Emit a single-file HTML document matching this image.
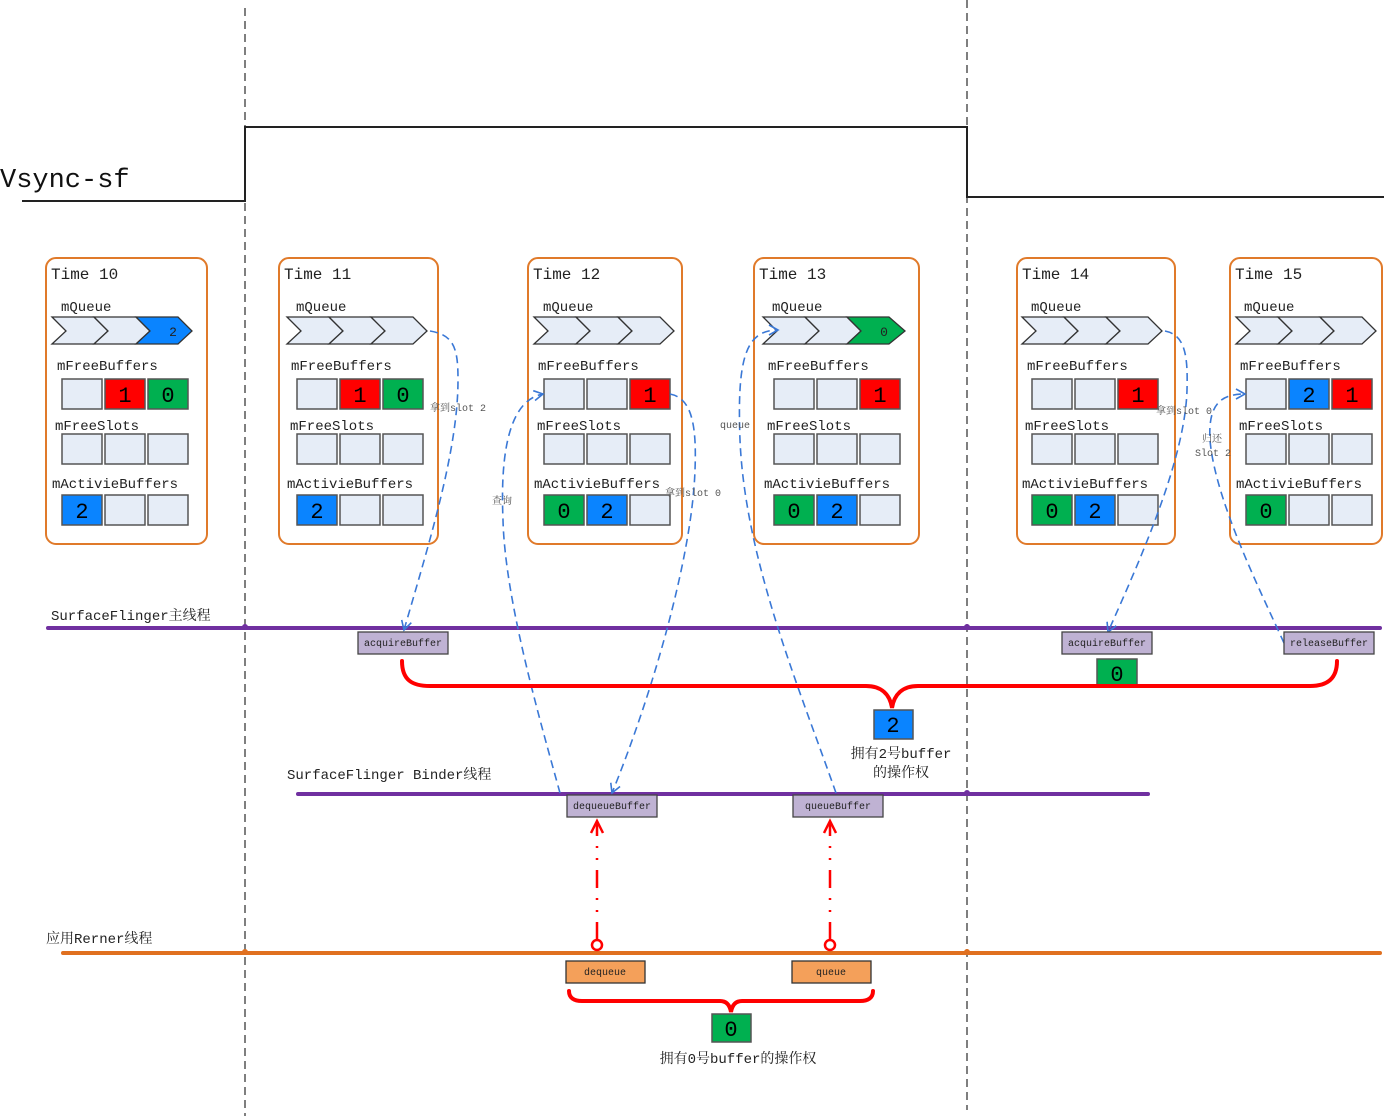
<!DOCTYPE html>
<html><head><meta charset="utf-8"><style>
html,body{margin:0;padding:0;background:#fff;}
svg{display:block;}
text{font-family:"Liberation Mono","Noto Serif CJK SC",monospace;fill:#222;}
.lb{font-size:14px;}
.tt{font-size:16px;}
.dg{font-size:22px;text-anchor:middle;fill:#000;}
.c{stroke:#555;stroke-width:1.5;}
.e{fill:#e6edf7;}
.r{fill:#ff0000;}
.g{fill:#00b050;}
.b{fill:#0a84ff;}
.bx{fill:#fff;stroke:#e07a2a;stroke-width:2;}
.ch{stroke:#333;stroke-width:1.3;}
.bl{fill:none;stroke:#3a78d6;stroke-width:1.6;stroke-dasharray:8,5;}
.sm{font-size:10px;fill:#555;}
.fn{fill:#bfb2d3;stroke:#444;stroke-width:1.3;}
.fo{fill:#f4a05a;stroke:#333;stroke-width:1.3;}
.ft{font-size:10px;text-anchor:middle;fill:#222;}
</style></head><body>
<svg width="1384" height="1116" viewBox="0 0 1384 1116" xmlns="http://www.w3.org/2000/svg">
<defs>
<marker id="ab" markerWidth="12" markerHeight="12" refX="10" refY="6" orient="auto" markerUnits="userSpaceOnUse"><path d="M1,1 L10,6 L1,11" fill="none" stroke="#3a78d6" stroke-width="1.6"/></marker>
</defs>

<line x1="245" y1="8" x2="245" y2="1116" stroke="#555" stroke-width="1.5" stroke-dasharray="8,5"/>
<line x1="967" y1="0" x2="967" y2="1110" stroke="#555" stroke-width="1.5" stroke-dasharray="8,5"/>

<polyline points="22,201 245,201 245,127 967,127 967,197 1384,197" fill="none" stroke="#222" stroke-width="2"/>
<text x="0" y="187" style="font-size:27px;fill:#111">Vsync-sf</text>

<!-- Box 1 -->
<rect class="bx" x="46" y="258" width="161" height="286" rx="10"/>
<text class="tt" x="51" y="279">Time 10</text>
<text class="lb" x="61" y="311">mQueue</text>
<polygon class="ch e" points="52,317 94,317 108,331 94,344 52,344 66,331"/>
<polygon class="ch e" points="94,317 136,317 150,331 136,344 94,344 108,331"/>
<polygon class="ch b" points="136,317 178,317 192,331 178,344 136,344 150,331"/>
<text x="173" y="336" style="font-size:13px;text-anchor:middle">2</text>
<text class="lb" x="57" y="370">mFreeBuffers</text>
<rect class="c e" x="62" y="379" width="40" height="30"/><rect class="c r" x="105" y="379" width="40" height="30"/><rect class="c g" x="148" y="379" width="40" height="30"/>
<text class="dg" x="125" y="402">1</text><text class="dg" x="168" y="402">0</text>
<text class="lb" x="55" y="430">mFreeSlots</text>
<rect class="c e" x="62" y="434" width="40" height="30"/><rect class="c e" x="105" y="434" width="40" height="30"/><rect class="c e" x="148" y="434" width="40" height="30"/>
<text class="lb" x="52" y="488">mActivieBuffers</text>
<rect class="c b" x="62" y="495" width="40" height="30"/><rect class="c e" x="105" y="495" width="40" height="30"/><rect class="c e" x="148" y="495" width="40" height="30"/>
<text class="dg" x="82" y="518">2</text>

<!-- Box 2 -->
<rect class="bx" x="279" y="258" width="159" height="286" rx="10"/>
<text class="tt" x="284" y="279">Time 11</text>
<text class="lb" x="296" y="311">mQueue</text>
<polygon class="ch e" points="287,317 329,317 343,331 329,344 287,344 301,331"/>
<polygon class="ch e" points="329,317 371,317 385,331 371,344 329,344 343,331"/>
<polygon class="ch e" points="371,317 413,317 427,331 413,344 371,344 385,331"/>
<text class="lb" x="291" y="370">mFreeBuffers</text>
<rect class="c e" x="297" y="379" width="40" height="30"/><rect class="c r" x="340" y="379" width="40" height="30"/><rect class="c g" x="383" y="379" width="40" height="30"/>
<text class="dg" x="360" y="402">1</text><text class="dg" x="403" y="402">0</text>
<text class="lb" x="290" y="430">mFreeSlots</text>
<rect class="c e" x="297" y="434" width="40" height="30"/><rect class="c e" x="340" y="434" width="40" height="30"/><rect class="c e" x="383" y="434" width="40" height="30"/>
<text class="lb" x="287" y="488">mActivieBuffers</text>
<rect class="c b" x="297" y="495" width="40" height="30"/><rect class="c e" x="340" y="495" width="40" height="30"/><rect class="c e" x="383" y="495" width="40" height="30"/>
<text class="dg" x="317" y="518">2</text>

<!-- Box 3 -->
<rect class="bx" x="528" y="258" width="154" height="286" rx="10"/>
<text class="tt" x="533" y="279">Time 12</text>
<text class="lb" x="543" y="311">mQueue</text>
<polygon class="ch e" points="534,317 576,317 590,331 576,344 534,344 548,331"/>
<polygon class="ch e" points="576,317 618,317 632,331 618,344 576,344 590,331"/>
<polygon class="ch e" points="618,317 660,317 674,331 660,344 618,344 632,331"/>
<text class="lb" x="538" y="370">mFreeBuffers</text>
<rect class="c e" x="544" y="379" width="40" height="30"/><rect class="c e" x="587" y="379" width="40" height="30"/><rect class="c r" x="630" y="379" width="40" height="30"/>
<text class="dg" x="650" y="402">1</text>
<text class="lb" x="537" y="430">mFreeSlots</text>
<rect class="c e" x="544" y="434" width="40" height="30"/><rect class="c e" x="587" y="434" width="40" height="30"/><rect class="c e" x="630" y="434" width="40" height="30"/>
<text class="lb" x="534" y="488">mActivieBuffers</text>
<rect class="c g" x="544" y="495" width="40" height="30"/><rect class="c b" x="587" y="495" width="40" height="30"/><rect class="c e" x="630" y="495" width="40" height="30"/>
<text class="dg" x="564" y="518">0</text><text class="dg" x="607" y="518">2</text>

<!-- Box 4 -->
<rect class="bx" x="754" y="258" width="165" height="286" rx="10"/>
<text class="tt" x="759" y="279">Time 13</text>
<text class="lb" x="772" y="311">mQueue</text>
<polygon class="ch e" points="763,317 805,317 819,331 805,344 763,344 777,331"/>
<polygon class="ch e" points="805,317 847,317 861,331 847,344 805,344 819,331"/>
<polygon class="ch g" points="847,317 889,317 905,331 889,344 847,344 861,331"/>
<text x="884" y="336" style="font-size:13px;text-anchor:middle">0</text>
<text class="lb" x="768" y="370">mFreeBuffers</text>
<rect class="c e" x="774" y="379" width="40" height="30"/><rect class="c e" x="817" y="379" width="40" height="30"/><rect class="c r" x="860" y="379" width="40" height="30"/>
<text class="dg" x="880" y="402">1</text>
<text class="lb" x="767" y="430">mFreeSlots</text>
<rect class="c e" x="774" y="434" width="40" height="30"/><rect class="c e" x="817" y="434" width="40" height="30"/><rect class="c e" x="860" y="434" width="40" height="30"/>
<text class="lb" x="764" y="488">mActivieBuffers</text>
<rect class="c g" x="774" y="495" width="40" height="30"/><rect class="c b" x="817" y="495" width="40" height="30"/><rect class="c e" x="860" y="495" width="40" height="30"/>
<text class="dg" x="794" y="518">0</text><text class="dg" x="837" y="518">2</text>

<!-- Box 5 -->
<rect class="bx" x="1017" y="258" width="158" height="286" rx="10"/>
<text class="tt" x="1022" y="279">Time 14</text>
<text class="lb" x="1031" y="311">mQueue</text>
<polygon class="ch e" points="1022,317 1064,317 1078,331 1064,344 1022,344 1036,331"/>
<polygon class="ch e" points="1064,317 1106,317 1120,331 1106,344 1064,344 1078,331"/>
<polygon class="ch e" points="1106,317 1148,317 1162,331 1148,344 1106,344 1120,331"/>
<text class="lb" x="1027" y="370">mFreeBuffers</text>
<rect class="c e" x="1032" y="379" width="40" height="30"/><rect class="c e" x="1075" y="379" width="40" height="30"/><rect class="c r" x="1118" y="379" width="40" height="30"/>
<text class="dg" x="1138" y="402">1</text>
<text class="lb" x="1025" y="430">mFreeSlots</text>
<rect class="c e" x="1032" y="434" width="40" height="30"/><rect class="c e" x="1075" y="434" width="40" height="30"/><rect class="c e" x="1118" y="434" width="40" height="30"/>
<text class="lb" x="1022" y="488">mActivieBuffers</text>
<rect class="c g" x="1032" y="495" width="40" height="30"/><rect class="c b" x="1075" y="495" width="40" height="30"/><rect class="c e" x="1118" y="495" width="40" height="30"/>
<text class="dg" x="1052" y="518">0</text><text class="dg" x="1095" y="518">2</text>

<!-- Box 6 -->
<rect class="bx" x="1230" y="258" width="152" height="286" rx="10"/>
<text class="tt" x="1235" y="279">Time 15</text>
<text class="lb" x="1244" y="311">mQueue</text>
<polygon class="ch e" points="1236,317 1278,317 1292,331 1278,344 1236,344 1250,331"/>
<polygon class="ch e" points="1278,317 1320,317 1334,331 1320,344 1278,344 1292,331"/>
<polygon class="ch e" points="1320,317 1362,317 1376,331 1362,344 1320,344 1334,331"/>
<text class="lb" x="1240" y="370">mFreeBuffers</text>
<rect class="c e" x="1246" y="379" width="40" height="30"/><rect class="c b" x="1289" y="379" width="40" height="30"/><rect class="c r" x="1332" y="379" width="40" height="30"/>
<text class="dg" x="1309" y="402">2</text><text class="dg" x="1352" y="402">1</text>
<text class="lb" x="1239" y="430">mFreeSlots</text>
<rect class="c e" x="1246" y="434" width="40" height="30"/><rect class="c e" x="1289" y="434" width="40" height="30"/><rect class="c e" x="1332" y="434" width="40" height="30"/>
<text class="lb" x="1236" y="488">mActivieBuffers</text>
<rect class="c g" x="1246" y="495" width="40" height="30"/><rect class="c e" x="1289" y="495" width="40" height="30"/><rect class="c e" x="1332" y="495" width="40" height="30"/>
<text class="dg" x="1266" y="518">0</text>

<!-- thread lines -->
<line x1="48" y1="628" x2="1380" y2="628" stroke="#7030a0" stroke-width="4" stroke-linecap="round"/>
<text x="51" y="620" style="font-size:14px">SurfaceFlinger主线程</text>
<line x1="298" y1="794" x2="1148" y2="794" stroke="#7030a0" stroke-width="4" stroke-linecap="round"/>
<text x="287" y="779" style="font-size:14px">SurfaceFlinger Binder线程</text>
<line x1="63" y1="953" x2="1380" y2="953" stroke="#e07020" stroke-width="4" stroke-linecap="round"/>
<text x="46" y="943" style="font-size:14px">应用Rerner线程</text>
<circle cx="245" cy="627" r="3" fill="#7030a0"/><circle cx="967" cy="627" r="3" fill="#7030a0"/>
<circle cx="967" cy="793" r="3" fill="#7030a0"/>
<circle cx="245" cy="952" r="3" fill="#e07020"/><circle cx="967" cy="952" r="3" fill="#e07020"/>

<!-- blue dashed connectors -->
<path class="bl" d="M430,331 C455,335 458,350 458,380 C458,450 430,540 404,630" marker-end="url(#ab)"/>
<text class="sm" x="430" y="411">拿到slot 2</text>
<path class="bl" d="M560,793 C540,720 505,600 503,520 C500,450 510,400 543,394" marker-end="url(#ab)"/>
<text class="sm" x="492" y="504">查询</text>
<path class="bl" d="M670,394 C690,398 697,420 695,470 C692,560 650,700 612,793" marker-end="url(#ab)"/>
<text class="sm" x="665" y="496">拿到slot 0</text>
<path class="bl" d="M836,793 C800,690 745,560 740,440 C737,360 745,330 778,330" marker-end="url(#ab)"/>
<text class="sm" x="720" y="428">queue</text>
<path class="bl" d="M1165,331 C1185,335 1188,355 1187,390 C1185,460 1140,560 1108,632" marker-end="url(#ab)"/>
<text class="sm" x="1156" y="414">拿到slot 0</text>
<path class="bl" d="M1284,643 C1260,590 1215,500 1210,440 C1208,405 1220,394 1245,394" marker-end="url(#ab)"/>
<text class="sm" x="1202" y="442">归还</text>
<text class="sm" x="1195" y="456">Slot 2</text>

<!-- function boxes -->
<rect class="fn" x="358" y="632" width="90" height="22"/><text class="ft" x="403" y="646">acquireBuffer</text>
<rect class="fn" x="1062" y="632" width="90" height="22"/><text class="ft" x="1107" y="646">acquireBuffer</text>
<rect class="fn" x="1284" y="632" width="90" height="22"/><text class="ft" x="1329" y="646">releaseBuffer</text>
<rect class="fn" x="567" y="795" width="90" height="22"/><text class="ft" x="612" y="809">dequeueBuffer</text>
<rect class="fn" x="793" y="795" width="90" height="22"/><text class="ft" x="838" y="809">queueBuffer</text>
<rect class="fo" x="566" y="961" width="79" height="22"/><text class="ft" x="605" y="975">dequeue</text>
<rect class="fo" x="792" y="961" width="79" height="22"/><text class="ft" x="831" y="975">queue</text>

<rect class="c g" x="1097" y="659" width="40" height="26"/><text class="dg" x="1117" y="681">0</text>

<path d="M402,661 C402,680 412,686 430,686 L866,686 C882,686 890,695 892,708 C894,695 902,686 918,686 L1310,686 C1328,686 1337,678 1337,661" fill="none" stroke="#ff0000" stroke-width="4" stroke-linecap="round"/>
<rect class="c b" x="874" y="710" width="39" height="29"/><text class="dg" x="893" y="732">2</text>
<text x="901" y="758" style="font-size:14px;text-anchor:middle">拥有2号buffer</text>
<text x="901" y="777" style="font-size:14px;text-anchor:middle">的操作权</text>

<path d="M569,991 C569,998 574,1001 582,1001 L720,1001 C727,1001 730,1006 731,1012 C732,1006 735,1001 742,1001 L860,1001 C868,1001 873,998 873,991" fill="none" stroke="#ff0000" stroke-width="4" stroke-linecap="round"/>
<rect class="c g" x="712" y="1014" width="39" height="28"/><text class="dg" x="731" y="1036">0</text>
<text x="738" y="1063" style="font-size:14px;text-anchor:middle">拥有0号buffer的操作权</text>

<g stroke="#ff0000" stroke-width="2.5" fill="none">
<line x1="597" y1="940" x2="597" y2="823" stroke-dasharray="18,10,2,10,2,10"/>
<polyline points="591,833 597,821 603,833"/>
<circle cx="597" cy="945" r="5" fill="#fff"/>
<line x1="830" y1="940" x2="830" y2="823" stroke-dasharray="18,10,2,10,2,10"/>
<polyline points="824,833 830,821 836,833"/>
<circle cx="830" cy="945" r="5" fill="#fff"/>
</g>
</svg>
</body></html>
